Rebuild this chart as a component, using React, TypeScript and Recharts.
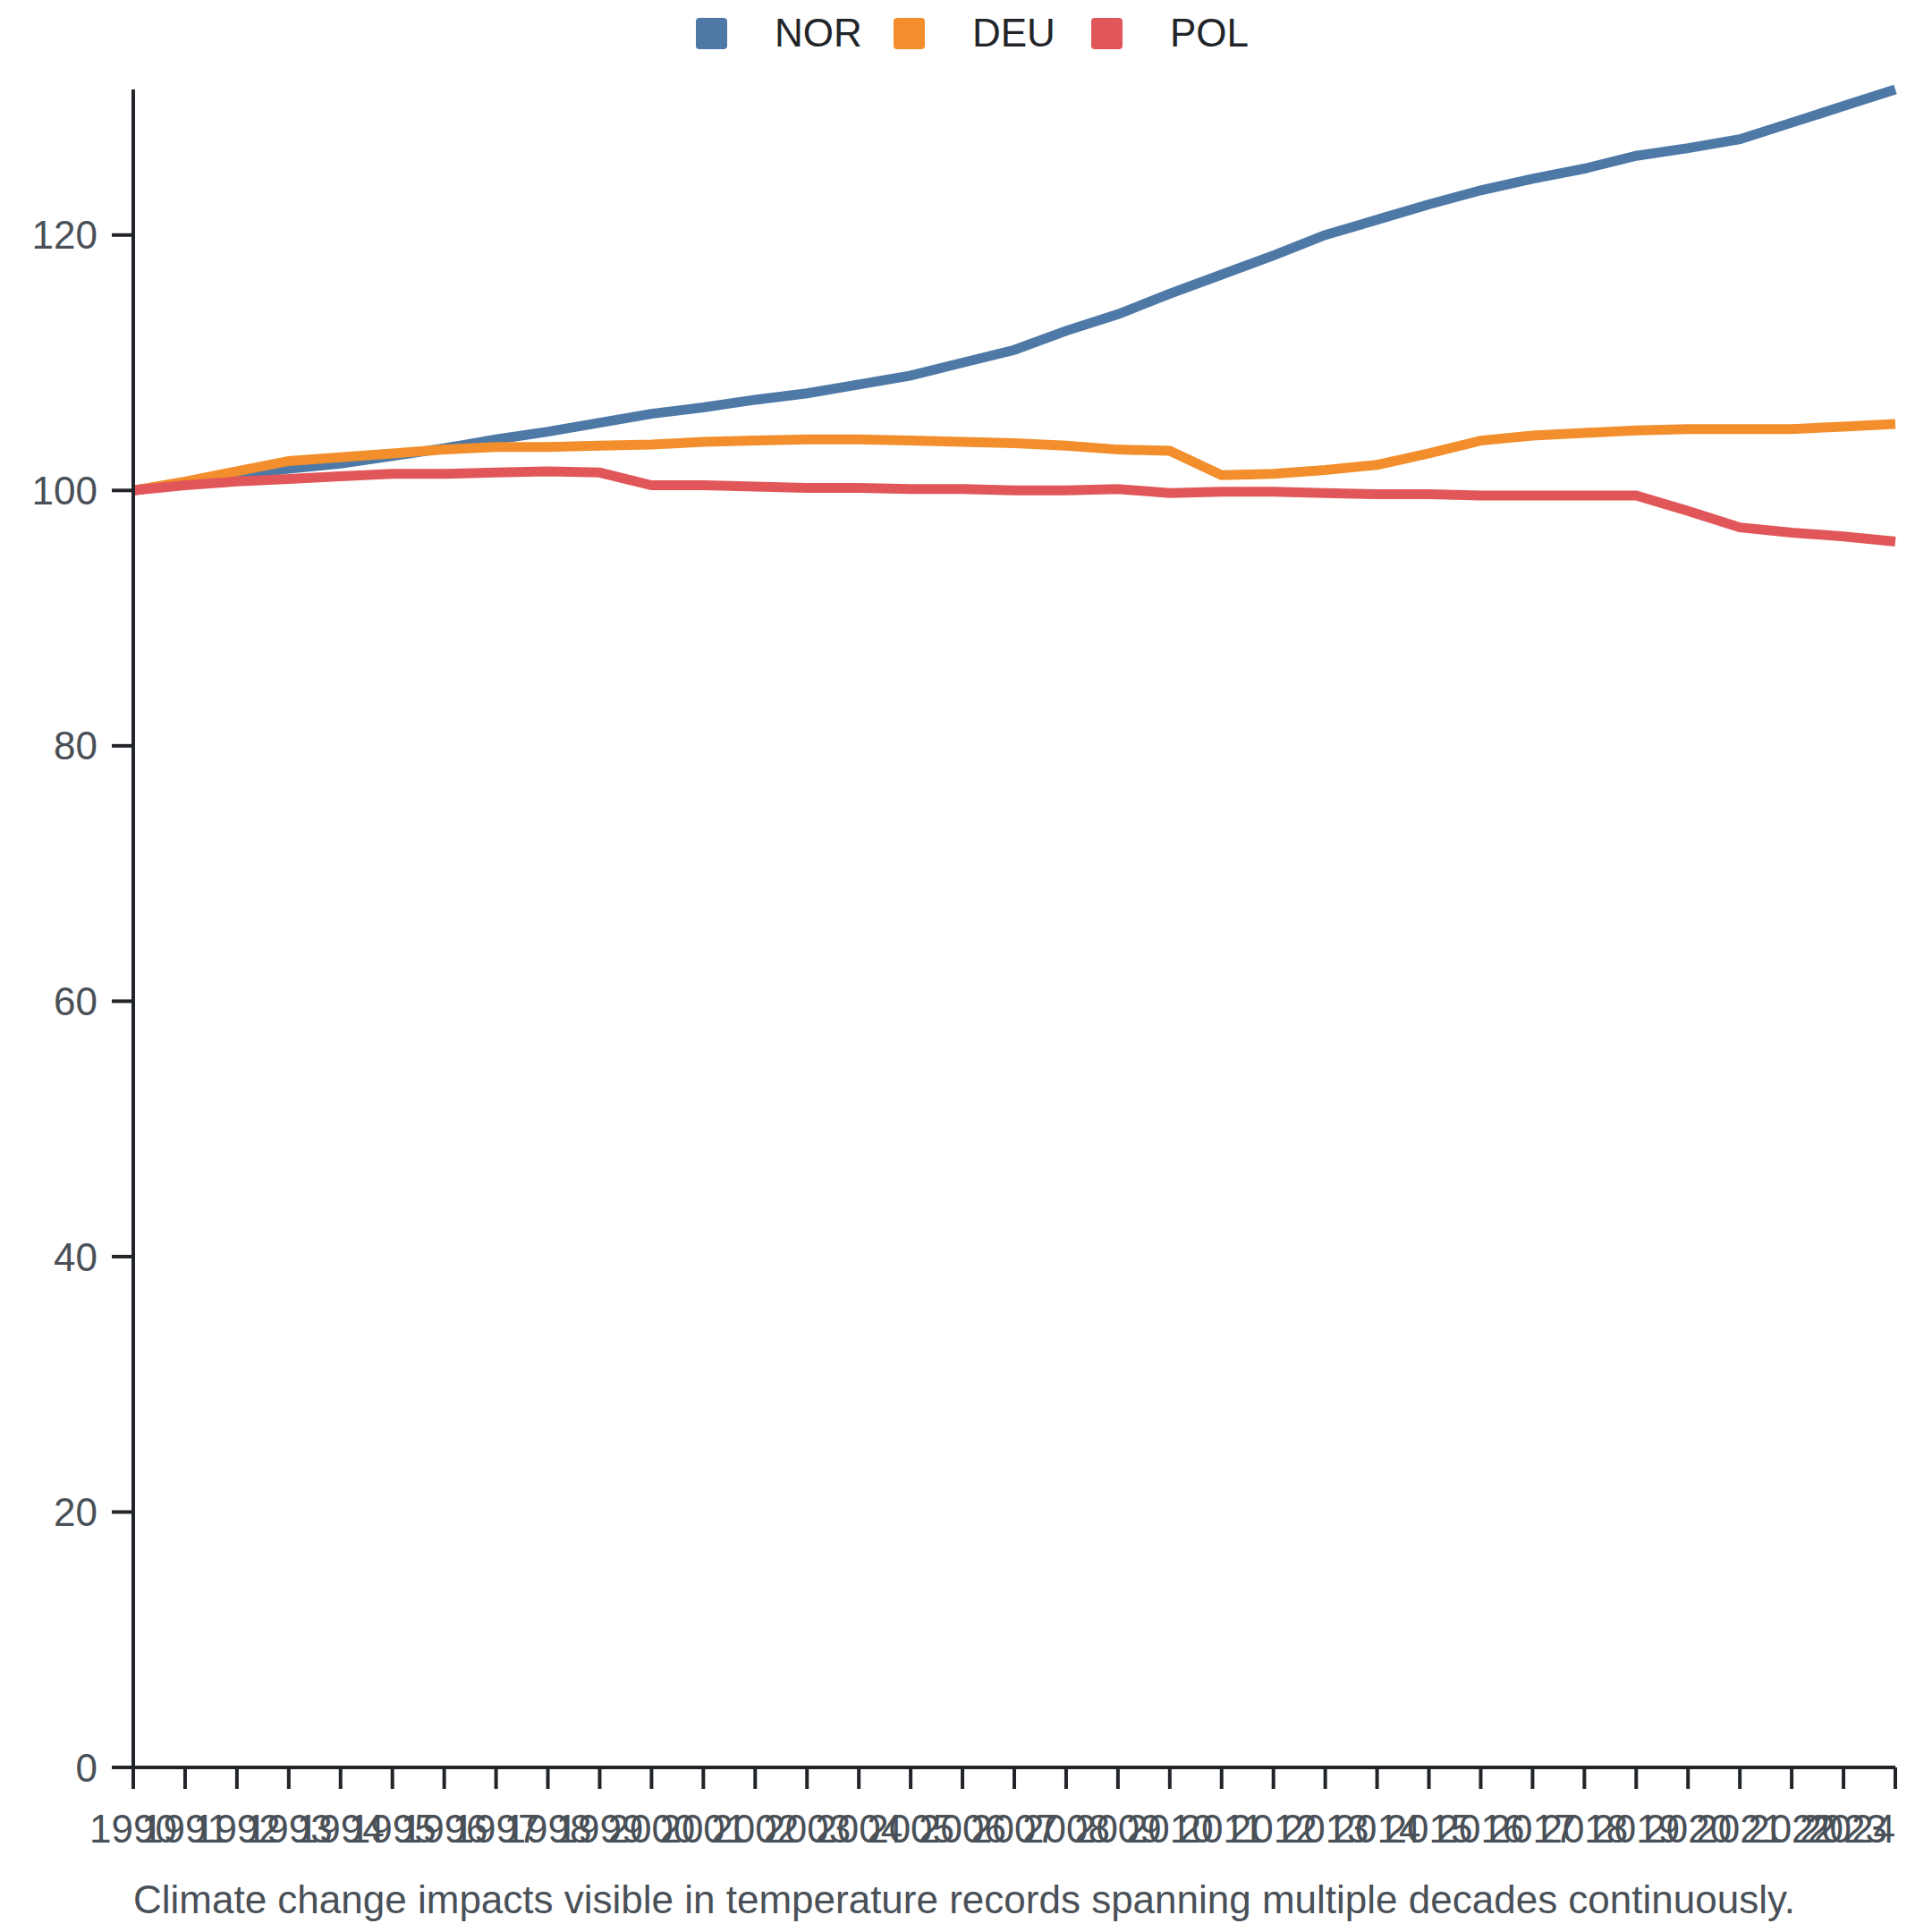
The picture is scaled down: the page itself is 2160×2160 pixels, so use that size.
import React from "react";
import { LineChart, Line, XAxis, YAxis, Legend } from "recharts";

const YEARS = [
  "1990", "1991", "1992", "1993", "1994", "1995", "1996", "1997", "1998", "1999",
  "2000", "2001", "2002", "2003", "2004", "2005", "2006", "2007", "2008", "2009",
  "2010", "2011", "2012", "2013", "2014", "2015", "2016", "2017", "2018", "2019",
  "2020", "2021", "2022", "2023", "2024",
];

const NOR = [
  100, 100.6, 101.2, 101.7, 102.1, 102.7, 103.3, 104.0, 104.6, 105.3,
  106.0, 106.5, 107.1, 107.6, 108.3, 109.0, 110.0, 111.0, 112.5, 113.8,
  115.4, 116.9, 118.4, 120.0, 121.2, 122.4, 123.5, 124.4, 125.2, 126.2,
  126.8, 127.5, 128.8, 130.1, 131.4,
];

const DEU = [
  100, 100.7, 101.5, 102.3, 102.6, 102.9, 103.2, 103.4, 103.4, 103.5,
  103.6, 103.8, 103.9, 104.0, 104.0, 103.9, 103.8, 103.7, 103.5, 103.2,
  103.1, 101.2, 101.3, 101.6, 102.0, 102.9, 103.9, 104.3, 104.5, 104.7,
  104.8, 104.8, 104.8, 105.0, 105.2,
];

const POL = [
  100, 100.4, 100.7, 100.9, 101.1, 101.3, 101.3, 101.4, 101.5, 101.4,
  100.4, 100.4, 100.3, 100.2, 100.2, 100.1, 100.1, 100.0, 100.0, 100.1,
  99.8, 99.9, 99.9, 99.8, 99.7, 99.7, 99.6, 99.6, 99.6, 99.6,
  98.4, 97.1, 96.7, 96.4, 96.0,
];

const Y_TICKS = [0, 20, 40, 60, 80, 100, 120];

const SERIES_NAMES = ["NOR", "DEU", "POL"];
const SERIES_COLORS = ["#4e79a7", "#f28e2b", "#e15759"];
const SERIES_VALUES = [NOR, DEU, POL];

const CAPTION =
  "Climate change impacts visible in temperature records spanning multiple decades continuously.";

const data = YEARS.map((year, i) => {
  const row: Record<string, string | number> = { year };
  SERIES_NAMES.forEach((name, s) => {
    row[name] = SERIES_VALUES[s][i];
  });
  return row;
});

const FONT = '"Liberation Sans", Arial, Helvetica, sans-serif';
const AXIS_COLOR = "#212529";
const TICK_COLOR = "#495057";

const renderLegend = () => (
  <div
    style={{
      display: "flex",
      paddingLeft: 778,
      paddingTop: 15,
      fontFamily: FONT,
      boxSizing: "border-box",
      width: 2160,
    }}
  >
    {SERIES_NAMES.map((name, i) => (
      <div
        key={name}
        style={{
          display: "flex",
          alignItems: "center",
          width: i < SERIES_NAMES.length - 1 ? 221 : undefined,
          flex: "none",
        }}
      >
        <div
          style={{
            width: 35,
            height: 35,
            borderRadius: 4,
            background: SERIES_COLORS[i],
            flex: "none",
          }}
        />
        <span
          style={{
            marginLeft: 53,
            fontSize: 44,
            lineHeight: "44px",
            color: AXIS_COLOR,
          }}
        >
          {name}
        </span>
      </div>
    ))}
  </div>
);

const XTick = (props: any) => {
  const { x, y, payload } = props;
  const isLast = payload.value === YEARS[YEARS.length - 1];
  return (
    <text
      x={x}
      y={y}
      dy="0.71em"
      textAnchor={isLast ? "end" : "middle"}
      fontSize={44}
      fill={TICK_COLOR}
      fontFamily={FONT}
    >
      {payload.value}
    </text>
  );
};

export default function App() {
  return (
    <div style={{ position: "absolute", left: 0, top: 0, width: 2160, height: 2160, background: "#fff" }}>
      <style>{"body{margin:0;}"}</style>
      <LineChart
        width={2160}
        height={2160}
        data={data}
        margin={{ top: 100, right: 41, left: 0, bottom: 0 }}
        style={{ fontFamily: FONT }}
      >
        <Legend
          verticalAlign="middle"
          align="center"
          layout="horizontal"
          content={renderLegend}
          wrapperStyle={{ top: 0, left: 0, width: 2160, height: 80 }}
        />
        <XAxis
          dataKey="year"
          interval={0}
          height={184}
          tickSize={24}
          tickMargin={29}
          padding={{ left: 0, right: 0 }}
          axisLine={{ stroke: AXIS_COLOR, strokeWidth: 4 }}
          tickLine={{ stroke: AXIS_COLOR, strokeWidth: 4 }}
          tick={<XTick />}
        />
        <YAxis
          type="number"
          domain={[0, "dataMax"]}
          ticks={Y_TICKS}
          width={149}
          tickSize={24}
          tickMargin={16}
          axisLine={{ stroke: AXIS_COLOR, strokeWidth: 4 }}
          tickLine={{ stroke: AXIS_COLOR, strokeWidth: 4 }}
          tick={{ fontSize: 44, fill: TICK_COLOR, fontFamily: FONT }}
        />
        {SERIES_NAMES.map((name, i) => (
          <Line
            key={name}
            type="linear"
            dataKey={name}
            stroke={SERIES_COLORS[i]}
            strokeWidth={11}
            dot={false}
            activeDot={false}
            isAnimationActive={false}
          />
        ))}
      </LineChart>
      <svg
        width={2160}
        height={2160}
        style={{ position: "absolute", left: 0, top: 0, pointerEvents: "none" }}
      >
        <text x={149} y={2139} fontSize={44} fill={TICK_COLOR} fontFamily={FONT}>
          {CAPTION}
        </text>
      </svg>
    </div>
  );
}
